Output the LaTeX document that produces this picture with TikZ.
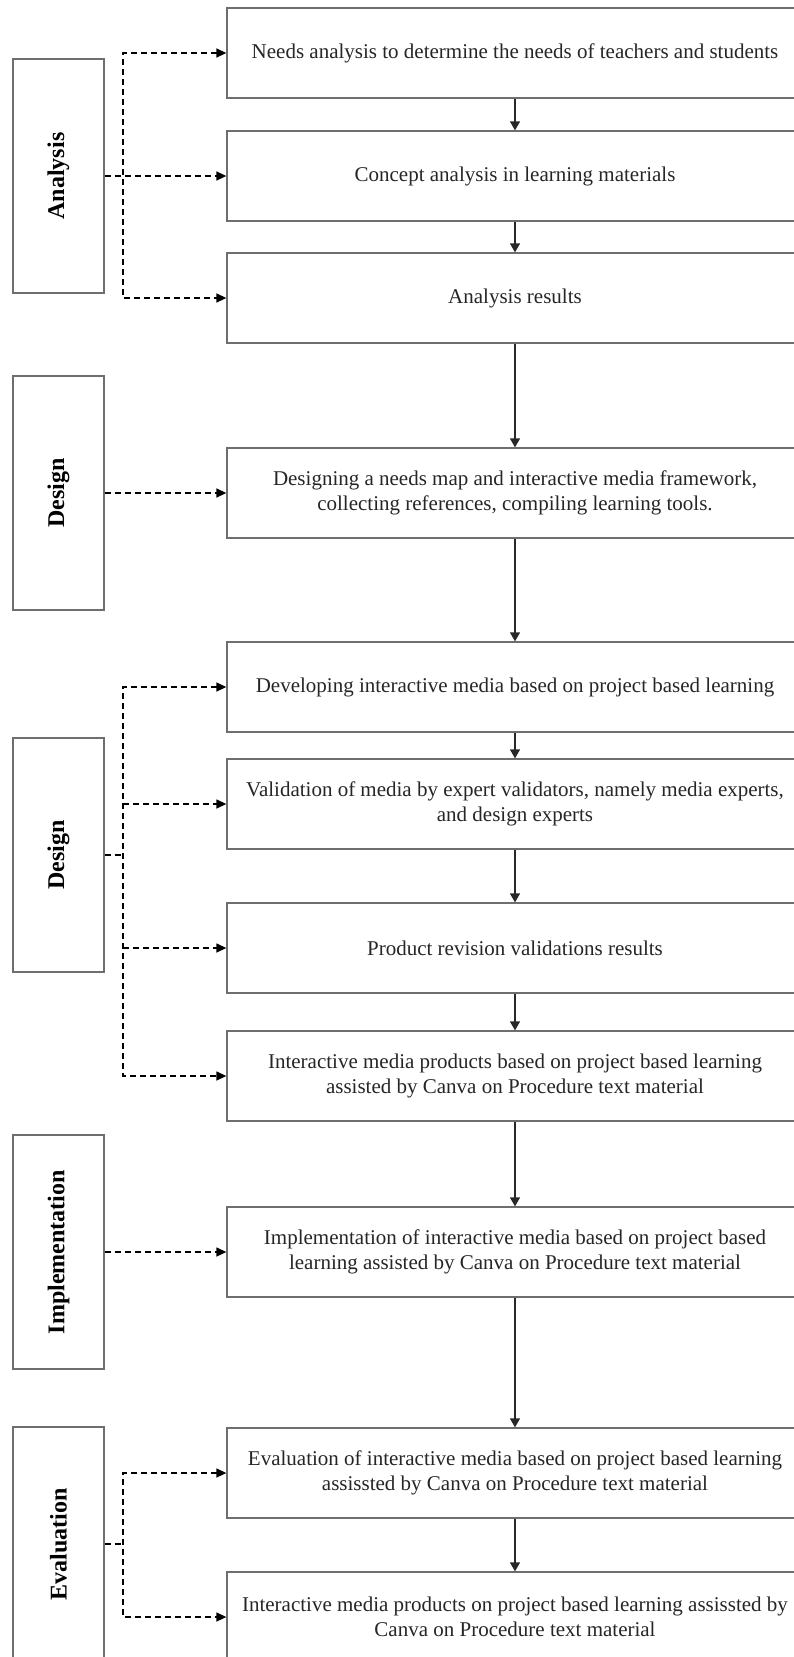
\documentclass[tikz,border=0pt]{standalone}
\usepackage{fontspec}
\setmainfont{Liberation Serif}
\usepackage{graphicx}
\usetikzlibrary{arrows.meta,calc}
\definecolor{boxgray}{RGB}{110,110,110}
\definecolor{arrowdark}{RGB}{40,40,40}
\begin{document}
\begin{tikzpicture}[x=1pt,y=-1pt,
  rbox/.style={draw=boxgray, line width=1.3pt, fill=white, minimum width=576pt, minimum height=90pt,
    align=center, inner sep=2pt, font={\fontsize{21}{25}\selectfont}, text=black!85},
  lbox/.style={draw=boxgray, line width=1.3pt, fill=white, minimum width=91pt, inner sep=0pt,
    font={\fontsize{24}{28}\selectfont\bfseries}},
  flow/.style={draw=arrowdark, line width=1.3pt, -{Triangle[length=9pt,width=10pt]}},
  dsh/.style={draw=black, line width=1.4pt, dash pattern=on 6pt off 4pt},
  dsharrow/.style={dsh, -{Triangle[length=10pt,width=9pt]}},
  dsharrows/.style={dsh, {Triangle[length=10pt,width=9pt]}-{Triangle[length=10pt,width=9pt]}}
]
\clip (0,0) rectangle (794,1657);
\fill[white] (0,0) rectangle (794,1657);

% right-hand process boxes
\node[rbox] (n1) at (515,53) {Needs analysis to determine the needs of teachers and students};
\node[rbox] (n2) at (515,176) {Concept analysis in learning materials};
\node[rbox] (n3) at (515,298) {Analysis results};
\node[rbox] (n4) at (515,493) {Designing a needs map and interactive media framework,\\collecting references, compiling learning tools.};
\node[rbox] (n5) at (515,687) {Developing interactive media based on project based learning};
\node[rbox] (n6) at (515,804) {Validation of media by expert validators, namely media experts,\\and design experts};
\node[rbox] (n7) at (515,948) {Product revision validations results};
\node[rbox] (n8) at (515,1076) {Interactive media products based on project based learning\\assisted by Canva on Procedure text material};
\node[rbox] (n9) at (515,1252) {Implementation of interactive media based on project based\\learning assisted by Canva on Procedure text material};
\node[rbox] (n10) at (515,1473) {Evaluation of interactive media based on project based learning\\assissted by Canva on Procedure text material};
\node[rbox] (n11) at (515,1617) {Interactive media products on project based learning assissted by\\Canva on Procedure text material};

% left-hand phase boxes
\node[lbox, minimum height=234pt] (an) at (58.5,176) {\rotatebox{90}{Analysis}};
\node[lbox, minimum height=234pt] (de1) at (58.5,493) {\rotatebox{90}{Design}};
\node[lbox, minimum height=234pt] (de2) at (58.5,855) {\rotatebox{90}{Design}};
\node[lbox, minimum height=234pt] (im) at (58.5,1252) {\rotatebox{90}{Implementation}};
\node[lbox, minimum height=234pt] (ev) at (58.5,1544) {\rotatebox{90}{Evaluation}};

% junction coordinate
\coordinate (jx) at (123,0);

% solid flow arrows
\draw[flow] (n1) -- (n2);
\draw[flow] (n2) -- (n3);
\draw[flow] (n3) -- (n4);
\draw[flow] (n4) -- (n5);
\draw[flow] (n5) -- (n6);
\draw[flow] (n6) -- (n7);
\draw[flow] (n7) -- (n8);
\draw[flow] (n8) -- (n9);
\draw[flow] (n9) -- (n10);
\draw[flow] (n10) -- (n11);

% Analysis connectors
\draw[dsharrows] (n1.west) -- (jx |- n1.west) -- (jx |- n3.west) -- (n3.west);
\draw[dsharrow] (an.east) -- (n2.west);

% Design connector
\draw[dsharrow] (de1.east) -- (n4.west);

% Development connectors
\draw[dsharrows] (n5.west) -- (jx |- n5.west) -- (jx |- n8.west) -- (n8.west);
\draw[dsharrow] (jx |- n6.west) -- (n6.west);
\draw[dsharrow] (jx |- n7.west) -- (n7.west);
\draw[dsh] (de2.east) -- (jx |- de2.east);

% Implementation connector
\draw[dsharrow] (im.east) -- (n9.west);

% Evaluation connectors
\draw[dsharrows] (n10.west) -- (jx |- n10.west) -- (jx |- n11.west) -- (n11.west);
\draw[dsh] (ev.east) -- (jx |- ev.east);
\end{tikzpicture}
\end{document}
